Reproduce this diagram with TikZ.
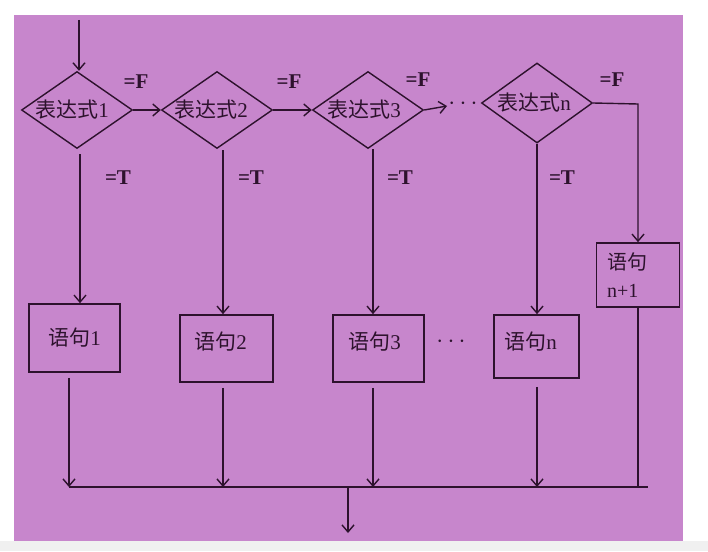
\documentclass[tikz,border=0pt]{standalone}
\usepackage{fontspec}
\setmainfont{Liberation Serif}
\newfontfamily\cjk{Noto Sans CJK SC}
\usetikzlibrary{shapes.geometric,arrows.meta}
\definecolor{bgpurple}{RGB}{199,134,204}
\definecolor{ink}{RGB}{45,18,45}
\begin{document}
\begin{tikzpicture}[x=1pt,y=-1pt,
  dec/.style={diamond, draw=ink, line width=1.4pt, minimum width=111pt, minimum height=77pt, inner sep=0pt, text=ink, font=\fontsize{21}{24}\selectfont},
  stm/.style={rectangle, draw=ink, line width=1.7pt, inner sep=0pt, text=ink, font=\fontsize{21}{24}\selectfont},
  arr/.style={draw=ink, line width=1.4pt, -{Straight Barb[length=7pt,width=12pt,line width=1.4pt]}},
  ln/.style={draw=ink, line width=1.4pt},
  lab/.style={inner sep=0pt, text=ink, font=\bfseries\fontsize{21}{22}\selectfont},
  dots/.style={inner sep=0pt, text=ink, font=\fontsize{24}{26}\selectfont}]
\useasboundingbox (0,0) rectangle (708,551);
\fill[white] (0,0) rectangle (708,551);
\fill[gray!12] (0,541) rectangle (708,551);
\fill[bgpurple] (14,15) rectangle (683,541);

% decisions
\node[dec] (d1) at (77,110) {\makebox[0pt]{\hspace*{-10pt}{\cjk 表达式}1}};
\node[dec] (d2) at (217,110) {\makebox[0pt]{\hspace*{-12pt}{\cjk 表达式}2}};
\node[dec] (d3) at (368,110) {\makebox[0pt]{\hspace*{-8pt}{\cjk 表达式}3}};
\node[dec, minimum height=80pt] (dn) at (537,103) {\makebox[0pt]{\hspace*{-6pt}{\cjk 表达式}n}};

% statements
\node[stm, minimum width=91pt, minimum height=68pt] (b1) at (74.5,338) {{\cjk 语句}1};
\node[stm, minimum width=93pt, minimum height=67pt] (b2) at (226.5,348.5) {\makebox[0pt]{\hspace*{-12pt}\raisebox{16pt}{{\cjk 语句}2}}};
\node[stm, minimum width=91pt, minimum height=67pt] (b3) at (378.5,348.5) {\makebox[0pt]{\hspace*{-8pt}\raisebox{16pt}{{\cjk 语句}3}}};
\node[stm, minimum width=85pt, minimum height=63pt] (bn) at (536.5,346.5) {\makebox[0pt]{\hspace*{-12pt}\raisebox{12pt}{{\cjk 语句}n}}};
\node[stm, minimum width=83pt, minimum height=64pt, text width=62pt, inner xsep=10.5pt, align=left, font=\fontsize{20}{28}\selectfont] (bn1) at (638,275) {{\cjk 语句}\\n+1};

% labels
\node[lab] (f1) at (136,82) {=F};
\node[lab] (f2) at (289,82) {=F};
\node[lab] (f3) at (418,80) {=F};
\node[lab] (f4) at (612,80) {=F};
\node[lab] (t1) at (118,178) {=T};
\node[lab] (t2) at (251,178) {=T};
\node[lab] (t3) at (400,178) {=T};
\node[lab] (t4) at (562,178) {=T};
\node[dots] (dt1) at (463,104) {$\cdots$};
\node[dots] (dt2) at (451,342) {$\cdots$};

% coordinates
\coordinate (in) at (79,20);
\coordinate (a3) at (447,106);
\coordinate (cr) at (638,104);
\coordinate (m1) at (69,487);
\coordinate (m2) at (223,487);
\coordinate (m3) at (373,487);
\coordinate (mn) at (537,487);
\coordinate (mr) at (648,487);
\coordinate (mx) at (348,487);
\coordinate (out) at (348,533);

% connectors
\draw[arr] (in) -- (in |- d1.north);
\draw[arr] (d1.east) -- (d2.west);
\draw[arr] (d2.east) -- (d3.west);
\draw[arr] (d3.east) -- (a3);
\draw[arr] (dn.east) -- (cr) -- (bn1.north);

\draw[arr, shorten <=5pt] (d1.south) ++(3,0) coordinate (s1) -- (s1 |- b1.north);
\draw[arr, shorten <=1pt] (d2.south) ++(6,0) coordinate (s2) -- (s2 |- b2.north);
\draw[arr] (d3.south) ++(5,0) coordinate (s3) -- (s3 |- b3.north);
\draw[arr] (dn.south) -- (dn.south |- bn.north);

\draw[arr, shorten <=5pt] (m1 |- b1.south) -- (m1);
\draw[arr, shorten <=5pt] (m2 |- b2.south) -- (m2);
\draw[arr, shorten <=5pt] (m3 |- b3.south) -- (m3);
\draw[arr, shorten <=8pt] (mn |- bn.south) -- (mn);
\draw[ln] (bn1.south) -- (bn1.south |- mr);
\draw[ln] (m1) -- (mr);
\draw[arr] (mx) -- (out);
\end{tikzpicture}
\end{document}
